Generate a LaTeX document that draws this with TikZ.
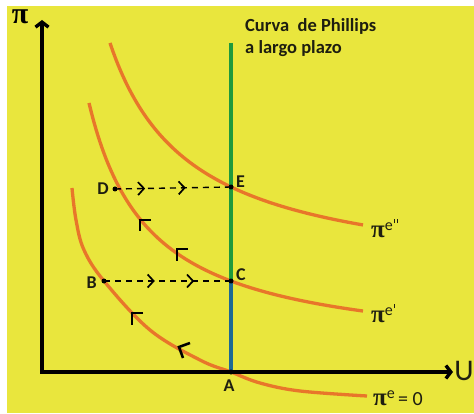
\documentclass[tikz,border=0pt]{standalone}
\usepackage{fontspec}
\setmainfont{Carlito}
\newfontfamily\pifont{Liberation Serif}
\usetikzlibrary{arrows.meta,decorations.markings}
\definecolor{bgyellow}{HTML}{E9E63D}
\definecolor{curveorange}{HTML}{E8762A}
\definecolor{lrgreen}{HTML}{1E9A3C}
\definecolor{lrblue}{HTML}{1D6A94}
\definecolor{textdark}{HTML}{1E1E10}
\tikzset{
  axisline/.style={line width=3.4pt, black, line join=miter,
    {Straight Barb[length=5pt,width=13pt,line width=3.4pt]}-{Straight Barb[length=5pt,width=13pt,line width=3.4pt]}},
  pcurve/.style={line width=3.3pt, curveorange},
  lrline/.style={line width=3.2pt},
  dashline/.style={line width=1.4pt, black, dash pattern=on 6pt off 5pt,
    postaction={decorate}},
  dotpt/.style={circle, fill=black, inner sep=0pt, minimum size=5pt},
  ptlabel/.style={font=\bfseries\fontsize{18}{20}\selectfont, text=textdark, inner sep=1pt},
  mk/.style={line width=2.6pt, black, line cap=butt, line join=miter},
  curlabel/.style={anchor=west, inner sep=0pt, text=textdark}
}
\newcommand{\pisym}{{\pifont\bfseries π}}
\newcommand{\primetick}{\rule[7pt]{1.1pt}{4.5pt}}
\newcommand{\supE}[1]{\raisebox{7pt}{\fontsize{16}{17}\selectfont e#1}}
\begin{document}
\begin{tikzpicture}[x=1pt,y=-1pt]
\useasboundingbox (0,0) rectangle (474,414);
\fill[white] (0,0) rectangle (474,414);
\fill[bgyellow] (7,6) rectangle (474,413);

% key points
\coordinate (O) at (42,372);
\coordinate (ytip) at (42,20);
\coordinate (xtip) at (453,372);
\coordinate (LRtop) at (231,43);
\coordinate (E) at (231,187);
\coordinate (C) at (231,281);
\coordinate (A) at (231,372);
\coordinate (D) at (115,189);
\coordinate (B) at (104,281);

% Phillips curves
\draw[pcurve] plot[domain=110:363, samples=80, smooth] (\x, {283 - 193.71/((\x-29.3)/100)});
\draw[pcurve] plot[domain=89:363, samples=80, smooth] (\x, {357.1 - 154.23/((\x-28.3)/100)});
\draw[pcurve] plot[smooth, tension=0.6] coordinates
  {(72,188) (76,220) (84,250) (104,281) (150,330) (200,360) (231,372) (260,383) (300,391) (367,396)};

% long-run Phillips curve
\draw[lrline, lrgreen] (LRtop) -- (C);
\draw[lrline, lrblue] (C) -- (A);

% axes
\draw[axisline] (ytip) -- (O) -- (xtip);

% dashed moves
\draw[dashline, decoration={markings,
   mark=at position 0.26 with {\arrow[solid]{Straight Barb[length=6pt,width=13pt,line width=1.7pt]}},
   mark=at position 0.61 with {\arrow[solid]{Straight Barb[length=6pt,width=13pt,line width=1.7pt]}}}]
   (D) -- (E);
\draw[dashline, decoration={markings,
   mark=at position 0.40 with {\arrow[solid]{Straight Barb[length=6pt,width=13pt,line width=1.7pt]}},
   mark=at position 0.71 with {\arrow[solid]{Straight Barb[length=6pt,width=13pt,line width=1.7pt]}}}]
   (B) -- (C);

% direction marks on curves
\draw[mk] (151,220) -- (140,220) -- (140,231);
\draw[mk] (188,249) -- (177,249) -- (177,261);
\draw[mk] (143,313) -- (132,313) -- (132,325);
\draw[mk] (190,343) -- (179,347) -- (183,358);

% dots
\node[dotpt] (dE) at (E) {};
\node[dotpt] (dC) at (C) {};
\node[dotpt] (dA) at (A) {};
\node[dotpt] (dD) at (D) {};
\node[dotpt] (dB) at (B) {};

% point labels
\node[ptlabel, anchor=west] (lE) at (235,182) {E};
\node[ptlabel, anchor=west] (lC) at (235,275) {C};
\node[ptlabel, anchor=north] (lA) at (229,379) {A};
\node[ptlabel, anchor=east] (lD) at (110,189) {D};
\node[ptlabel, anchor=east] (lB) at (98,283) {B};

% axis labels
\node[font=\fontsize{30}{32}\selectfont, inner sep=0pt] (lpi) at (20,17) {\pisym};
\node[font=\fontsize{30}{32}\selectfont, text=textdark, inner sep=0pt] (lU) at (464,371) {U};

% curve labels
\node[curlabel] (l2) at (371,228) {{\fontsize{25}{26}\selectfont\pisym}\supE{\kern1pt\primetick\kern2pt\primetick}};
\node[curlabel] (l1) at (371,313) {{\fontsize{25}{26}\selectfont\pisym}\supE{\kern1pt\primetick}};
\node[curlabel] (l0) at (373,398) {{\fontsize{25}{26}\selectfont\pisym}\supE{}{\fontsize{20}{21}\selectfont\,= 0}};

% long-run label
\node[anchor=north west, align=left, font=\bfseries\fontsize{18.5}{22}\selectfont, text=textdark, inner sep=0pt] (lLR) at (245,18) {Curva\ \ de Phillips\\a largo plazo};
\end{tikzpicture}
\end{document}
